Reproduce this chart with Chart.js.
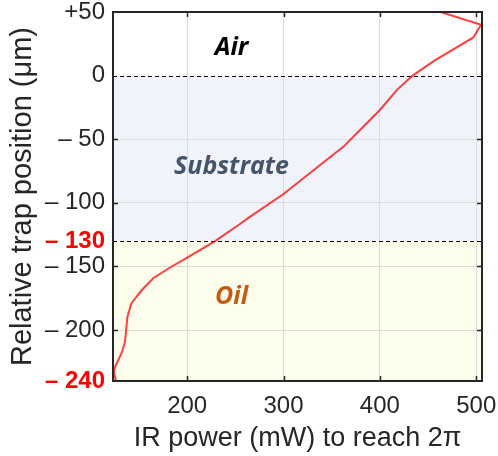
<!DOCTYPE html>
<html>
<head>
<meta charset="utf-8">
<script src="https://cdn.jsdelivr.net/npm/chart.js@4"></script>
<style>
  html, body { margin: 0; padding: 0; background: #fff; }
</style>
</head>
<body>
<canvas id="chart" width="498" height="456"></canvas>
<script>
// curve (IR power vs trap position)
const powerMw = [463, 505, 497, 457, 434, 418, 400, 383, 362, 335, 300, 265, 254, 229, 200, 184, 165, 153, 142, 138, 136.5, 135.5, 132, 125, 124, 126];
const positionUm = [50, 40, 30, 12, 0, -11, -27, -40, -56, -72, -93, -111, -117, -130, -143, -150, -159, -168.5, -179, -189.5, -201, -209, -218, -229, -233, -240];

const xTicks = [200, 300, 400, 500];
const yTicks = [50, 0, -50, -100, -130, -150, -200, -240];
const yTickLabels = ['+50', '0', '– 50', '– 100', '– 130', '– 150', '– 200', '– 240'];
const redTicks = [-130, -240];
const gridY = [-50, -100, -150, -200];

// layers
const boundaries = [0, -130];
const regionNames = ['Air', 'Substrate', 'Oil'];
const regionTop = [50, 0, -130];
const regionBottom = [0, -130, -240];
const regionLabelX = 246;
const regionLabelY = [22, -72, -174];
const regionFill = ['#ffffff', '#f0f4fa', '#fdfdec'];
const regionText = ['#000000', '#44546a', '#c55a11'];

const ink = '#262626';
const isRed = c => !!(c && c.tick && redTicks.includes(c.tick.value));

const layersPlugin = {
  id: 'layers',
  beforeDraw(chart) {
    const { ctx, chartArea: a, scales: { y } } = chart;
    ctx.save();
    regionNames.forEach((n, i) => {
      const t = y.getPixelForValue(regionTop[i]);
      const b = y.getPixelForValue(regionBottom[i]);
      ctx.fillStyle = regionFill[i];
      ctx.fillRect(a.left, t, a.right - a.left, b - t);
    });
    ctx.restore();
  },
  beforeDatasetsDraw(chart) {
    const { ctx, chartArea: a, scales: { x, y } } = chart;
    ctx.save();
    // dashed boundaries
    ctx.strokeStyle = '#000';
    ctx.lineWidth = 1;
    ctx.setLineDash([4, 3]);
    boundaries.forEach(v => {
      const py = Math.round(y.getPixelForValue(v)) + 0.5;
      ctx.beginPath();
      ctx.moveTo(a.left, py);
      ctx.lineTo(a.right, py);
      ctx.stroke();
    });
    ctx.setLineDash([]);
    // region names
    ctx.font = 'italic bold 25px "Open Sans"';
    ctx.textAlign = 'center';
    ctx.textBaseline = 'middle';
    regionNames.forEach((n, i) => {
      ctx.fillStyle = regionText[i];
      ctx.fillText(n, x.getPixelForValue(regionLabelX), y.getPixelForValue(regionLabelY[i]));
    });
    ctx.restore();
  },
  afterDraw(chart) {
    const { ctx, chartArea: a, scales: { x, y } } = chart;
    ctx.save();
    ctx.strokeStyle = ink;
    ctx.lineWidth = 1.5;
    // inward ticks on all sides
    ctx.beginPath();
    xTicks.forEach(v => {
      const px = Math.round(x.getPixelForValue(v)) + 0.5;
      ctx.moveTo(px, a.bottom); ctx.lineTo(px, a.bottom - 5);
      ctx.moveTo(px, a.top); ctx.lineTo(px, a.top + 5);
    });
    gridY.forEach(v => {
      const py = Math.round(y.getPixelForValue(v)) + 0.5;
      ctx.moveTo(a.left, py); ctx.lineTo(a.left + 5, py);
      ctx.moveTo(a.right, py); ctx.lineTo(a.right - 5, py);
    });
    ctx.stroke();
    ctx.lineWidth = 2;
    ctx.strokeRect(a.left, a.top, a.right - a.left, a.bottom - a.top);
    ctx.restore();
  }
};

new Chart(document.getElementById('chart'), {
  type: 'scatter',
  data: {
    datasets: [{
      data: powerMw.map((p, i) => ({ x: p, y: positionUm[i] })),
      showLine: true,
      borderColor: 'rgba(255, 0, 0, 0.75)',
      borderWidth: 2,
      pointRadius: 0,
      tension: 0
    }]
  },
  options: {
    responsive: false,
    animation: false,
    layout: { padding: { top: 12, right: 16 } },
    plugins: { legend: { display: false }, tooltip: { enabled: false } },
    scales: {
      x: {
        min: 123, max: 506,
        afterBuildTicks: s => { s.ticks = xTicks.map(v => ({ value: v })); },
        afterFit: s => { s.height = 75; s.paddingLeft = 0; s.paddingRight = 0; },
        grid: { color: '#dcdcdc', drawTicks: false },
        border: { display: false },
        ticks: { autoSkip: false, maxRotation: 0, padding: 11, color: ink, font: { family: '"Liberation Sans"', size: 24 } },
        title: {
          display: true, text: 'IR power (mW) to reach 2π', color: ink,
          font: { family: '"Liberation Sans"', size: 27 }, padding: { top: 0, bottom: 1 }
        }
      },
      y: {
        min: -240, max: 50,
        afterBuildTicks: s => { s.ticks = yTicks.map(v => ({ value: v })); },
        afterFit: s => { s.width = 113; s.paddingTop = 0; s.paddingBottom = 0; },
        grid: {
          color: c => (c.tick && gridY.includes(c.tick.value)) ? '#dcdcdc' : 'rgba(0,0,0,0)',
          drawTicks: false
        },
        border: { display: false },
        ticks: {
          autoSkip: false, padding: 8,
          callback: v => yTickLabels[yTicks.indexOf(v)],
          color: c => isRed(c) ? '#ff0000' : ink,
          font: c => ({
            family: '"Liberation Sans"', size: 24,
            weight: isRed(c) ? 'bold' : 'normal'
          })
        },
        title: {
          display: true, text: 'Relative trap position (μm)', color: ink,
          font: { family: '"Liberation Sans"', size: 29 }, padding: { top: 6, bottom: 0 }
        }
      }
    }
  },
  plugins: [layersPlugin]
});
</script>
</body>
</html>
